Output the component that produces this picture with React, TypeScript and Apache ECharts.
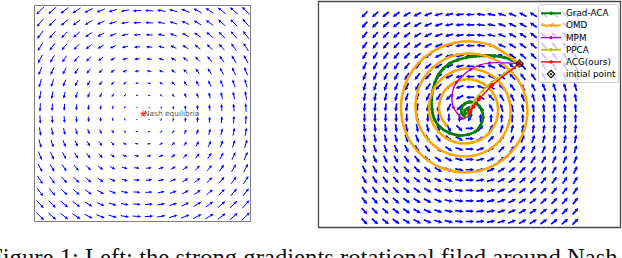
import React, { useEffect, useRef } from "react";
import * as echarts from "echarts";

// ---------- data ----------
const seriesNames = ["Grad-ACA", "OMD", "MPM", "PPCA", "ACG(ours)", "initial point"];
const seriesColors = ["#008000", "#ffa500", "#bf00bf", "#bfbf00", "#ff0000", "#000000"];
const captionText = "Figure 1: Left: the strong gradients rotational filed around Nash";
const nashLabel = "Nash equilibria";
const nashPoint = [0, 0];

// right panel, trajectories (data units)
const initialPoint = [5.2, 4.9];

const gradAcaPath = [
  [5.2, 4.9], [4.4, 5.25], [3.7, 5.5], [2.7, 5.67], [1.8, 5.7], [0.8, 5.65], [-0.1, 5.5],
  [-1.0, 5.25], [-1.8, 4.9], [-2.4, 4.4], [-2.9, 3.8], [-3.25, 3.0], [-3.5, 2.1], [-3.6, 1.3],
  [-3.55, 0.3], [-3.3, -0.7], [-2.7, -1.5], [-1.8, -2.05], [-0.8, -2.3], [0.1, -2.2],
  [0.8, -1.9], [1.3, -1.3], [1.55, -0.5], [1.4, 0.3], [0.9, 0.9], [0.2, 1.05], [-0.3, 0.85],
  [-0.6, 0.4], [-0.55, -0.1], [-0.2, -0.4], [0.2, -0.3], [0.3, 0.1], [0.05, 0.35],
  [-0.25, 0.2], [-0.2, -0.1], [0.05, -0.1], [0.1, 0.05],
];

// OMD spiral read in polar form around its centre
const omdCentre = [-0.1, 0.4];
const omdTheta = [
  40, 70, 100, 130, 160, 190, 220, 250, 280, 310, 340, 370, 400, 430, 460, 490, 520, 550,
  580, 610, 640, 670, 700, 730, 760, 790, 820, 850, 880, 910, 940, 970, 1000, 1030, 1060,
  1090, 1120, 1150, 1180, 1210, 1240, 1270, 1300,
];
const omdRadius = [
  6.9, 6.78, 6.68, 6.62, 6.58, 6.54, 6.5, 6.44, 6.36, 6.26, 6.16, 6.03, 5.8, 5.6, 5.45, 5.3,
  5.18, 5.06, 4.96, 4.86, 4.76, 4.64, 4.5, 4.36, 4.22, 4.08, 3.96, 3.86, 3.78, 3.72, 3.64,
  3.56, 3.46, 3.34, 3.22, 3.12, 3.04, 2.96, 2.9, 2.84, 2.78, 2.72, 2.66,
];

const mpmPath = [
  [5.2, 4.9], [2.2, 4.96], [0.3, 4.3], [-1.1, 3.0], [-1.55, 1.7], [-1.4, 0.5],
  [-0.55, -0.6], [-0.05, -0.4], [0.15, -0.1], [0.1, 0.1],
];

const ppcaPath = [
  [5.2, 4.9], [3.7, 3.9], [2.4, 3.0], [1.5, 2.15], [0.8, 1.3], [0.35, 0.5], [0.1, 0.0],
  [-0.1, -0.35],
];

const acgPath = [
  [5.2, 4.9], [2.47, 2.75], [1.13, 1.33], [0.6, 0.6], [0.3, 0.2], [0.2, 0.0],
];

// ---------- quiver fields ----------
// left: rotational field on an 18x18 mesh over [-1, 1]^2, magnitude growing with radius
const leftMeshCount = 18;
const leftQuiver: number[][] = [];
for (let j = 0; j < leftMeshCount; j++) {
  for (let i = 0; i < leftMeshCount; i++) {
    const x = -1 + (2 * i) / (leftMeshCount - 1);
    const y = -1 + (2 * j) / (leftMeshCount - 1);
    const r = Math.hypot(x, y);
    if (r < 1e-9) continue;
    const L = 0.106 * Math.pow(r / Math.SQRT2, 0.7);
    leftQuiver.push([x, y, (-y / r) * L, (x / r) * L]);
  }
}

// right: normalised rotational field on a 21x21 mesh
const rightCols = 21;
const rightRows = 21;
const rightX0 = -10.3, rightDX = 1.055;
const rightY0 = 9.8, rightDY = -1.035;
const rightCentre = [0.25, -0.55];
const rightQuiver: number[][] = [];
for (let j = 0; j < rightRows; j++) {
  for (let i = 0; i < rightCols; i++) {
    const x = rightX0 + i * rightDX;
    const y = rightY0 + j * rightDY;
    const dx = x - rightCentre[0], dy = y - rightCentre[1];
    const r = Math.hypot(dx, dy) || 1;
    const L = 0.85;
    rightQuiver.push([x, y, (-dy / r) * L, (dx / r) * L]);
  }
}

function makeArrow(shaftW: number, headL: number, headW: number, color: string) {
  return (params: any, api: any) => {
    const x = api.value(0), y = api.value(1), u = api.value(2), v = api.value(3);
    const p0 = api.coord([x - u / 2, y - v / 2]);
    const p1 = api.coord([x + u / 2, y + v / 2]);
    const dx = p1[0] - p0[0], dy = p1[1] - p0[1];
    const len = Math.hypot(dx, dy);
    if (len < 0.2) return { type: "group", children: [] };
    const ux = dx / len, uy = dy / len;
    const hl = Math.min(headL, len * 0.55);
    const hw = Math.min(headW, Math.max(1.2, len * 0.6));
    const bx = p1[0] - ux * hl, by = p1[1] - uy * hl;
    return {
      type: "group",
      children: [
        {
          type: "line",
          shape: { x1: p0[0], y1: p0[1], x2: bx + ux * 0.3, y2: by + uy * 0.3 },
          style: { stroke: color, lineWidth: shaftW },
        },
        {
          type: "polygon",
          shape: {
            points: [
              [p1[0], p1[1]],
              [bx - (uy * hw) / 2, by + (ux * hw) / 2],
              [bx + (uy * hw) / 2, by - (ux * hw) / 2],
            ],
          },
          style: { fill: color },
        },
      ],
    };
  };
}

// draws segment i -> i+1 of a path (Catmull-Rom in pixel space) and the marker at point i
function makePathRender(path: number[][], color: string, width: number, markerR: number, tension: number) {
  return (params: any, api: any) => {
    const i = params.dataIndex;
    const n = path.length;
    const c = (k: number) => api.coord(path[Math.max(0, Math.min(n - 1, k))]);
    const children: any[] = [];
    const p1 = c(i);
    if (i < n - 1) {
      const p0 = c(i - 1), p2 = c(i + 1), p3 = c(i + 2);
      const t = tension / 6;
      children.push({
        type: "bezierCurve",
        shape: {
          x1: p1[0], y1: p1[1], x2: p2[0], y2: p2[1],
          cpx1: p1[0] + (p2[0] - p0[0]) * t, cpy1: p1[1] + (p2[1] - p0[1]) * t,
          cpx2: p2[0] - (p3[0] - p1[0]) * t, cpy2: p2[1] - (p3[1] - p1[1]) * t,
        },
        style: { stroke: color, lineWidth: width, fill: "none", lineCap: "round" },
      });
    }
    if (markerR > 0) {
      children.push({ type: "circle", shape: { cx: p1[0], cy: p1[1], r: markerR }, style: { fill: color } });
    }
    return { type: "group", children };
  };
}

const starPath = "path://M50,0 L61,35 L98,35 L68,57 L79,91 L50,70 L21,91 L32,57 L2,35 L39,35 Z";
const ringDiamond =
  "path://M5,0 L10,5 L5,10 L0,5 Z M5,2 L2,5 L5,8 L8,5 Z M5,3.6 L6.4,5 L5,6.4 L3.6,5 Z";

function buildOption() {
  const omdPath = omdTheta.map((t, i) => [
    omdCentre[0] + omdRadius[i] * Math.cos((t * Math.PI) / 180),
    omdCentre[1] + omdRadius[i] * Math.sin((t * Math.PI) / 180),
  ]);
  const paths = [gradAcaPath, omdPath, mpmPath, ppcaPath, acgPath];
  const lineWidths = [2.8, 2.5, 1.4, 1.8, 1.4];
  const markerRadii = [1.7, 1.4, 1.5, 1.3, 2.1];
  const tensions = [1, 1, 0.8, 0.8, 0];

  const trajSeries = paths.map((p, k) => ({
    type: "custom",
    name: seriesNames[k],
    xAxisIndex: 1,
    yAxisIndex: 1,
    data: p,
    encode: { x: 0, y: 1 },
    renderItem: makePathRender(p, seriesColors[k], lineWidths[k], markerRadii[k], tensions[k]),
    clip: true,
    silent: true,
    z: 3,
  }));

  // legend (drawn manually, matplotlib style)
  const lgX = 538.5, lgY = 4.5, lgW = 80, lgH = 78;
  const rowY0 = 13.3, rowDY = 12.15;
  const Z = 100;
  const legendChildren: any[] = [
    {
      type: "rect",
      z: Z,
      shape: { x: lgX, y: lgY, width: lgW, height: lgH, r: 2 },
      style: { fill: "rgba(255,255,255,0.8)", stroke: "#cccccc", lineWidth: 1 },
    },
  ];
  seriesNames.forEach((name, k) => {
    const cy = rowY0 + k * rowDY;
    if (k < 5) {
      legendChildren.push({
        type: "line",
        z: Z + 1,
        shape: { x1: 541, y1: cy, x2: 561, y2: cy },
        style: { stroke: seriesColors[k], lineWidth: Math.min(lineWidths[k], 2) },
      });
      legendChildren.push({
        type: "circle",
        z: Z + 2,
        shape: { cx: 551, cy, r: 1.7 },
        style: { fill: seriesColors[k] },
      });
    } else {
      const d = (s: number) => [
        [551, cy - s],
        [551 + s, cy],
        [551, cy + s],
        [551 - s, cy],
      ];
      legendChildren.push({ type: "polygon", z: Z + 1, shape: { points: d(4.5) }, style: { fill: "#000" } });
      legendChildren.push({ type: "polygon", z: Z + 2, shape: { points: d(2.9) }, style: { fill: "#fff" } });
      legendChildren.push({ type: "polygon", z: Z + 3, shape: { points: d(1.4) }, style: { fill: "#000" } });
    }
    legendChildren.push({
      type: "text",
      z: Z + 1,
      x: 566,
      y: cy,
      style: {
        text: name,
        fontSize: 8.8,
        fontFamily: "DejaVu Sans",
        fill: "#000",
        verticalAlign: "middle",
        align: "left",
      },
    });
  });

  return {
    animation: false,
    backgroundColor: "#ffffff",
    grid: [
      {
        left: 34.5, top: 5.5, width: 216, height: 216,
        show: true, borderColor: "#808080", borderWidth: 1, backgroundColor: "#fff",
      },
      {
        left: 318.5, top: 1.5, width: 302, height: 226,
        show: true, borderColor: "#4a4a4a", borderWidth: 1.3, backgroundColor: "#fff",
      },
    ],
    xAxis: [
      { gridIndex: 0, type: "value", min: -1.055, max: 1.045, show: false },
      { gridIndex: 1, type: "value", min: -14.9, max: 15.3, show: false },
    ],
    yAxis: [
      { gridIndex: 0, type: "value", min: -1.05, max: 1.05, show: false },
      { gridIndex: 1, type: "value", min: -11.5, max: 11.1, show: false },
    ],
    series: [
      {
        type: "custom",
        xAxisIndex: 0,
        yAxisIndex: 0,
        data: leftQuiver,
        encode: { x: 0, y: 1 },
        renderItem: makeArrow(1.0, 3.3, 2.9, "#0000ff"),
        clip: true,
        silent: true,
        z: 2,
      },
      {
        type: "scatter",
        xAxisIndex: 0,
        yAxisIndex: 0,
        data: [nashPoint],
        symbol: starPath,
        symbolSize: 7,
        itemStyle: { color: "#ff0000" },
        label: {
          show: true,
          position: "right",
          distance: -2.5,
          formatter: nashLabel,
          fontSize: 7.4,
          fontFamily: "DejaVu Sans",
          color: "#222",
        },
        silent: true,
        z: 3,
      },
      {
        type: "custom",
        xAxisIndex: 1,
        yAxisIndex: 1,
        data: rightQuiver,
        encode: { x: 0, y: 1 },
        renderItem: makeArrow(1.7, 3.8, 3.8, "#0000ff"),
        clip: true,
        silent: true,
        z: 2,
      },
      ...trajSeries,
      {
        type: "scatter",
        name: seriesNames[5],
        xAxisIndex: 1,
        yAxisIndex: 1,
        data: [initialPoint],
        symbol: ringDiamond,
        symbolSize: 9,
        itemStyle: { color: "#000" },
        silent: true,
        z: 4,
      },
    ],
    graphic: [
      { type: "group", children: legendChildren },
      {
        type: "text",
        x: -11,
        y: 245,
        z: Z,
        style: {
          text: captionText,
          fontSize: 24.7,
          fontFamily: "Liberation Serif",
          fill: "#111",
          verticalAlign: "top",
          align: "left",
        },
      },
    ],
  };
}

export default function App() {
  const ref = useRef<HTMLDivElement>(null);
  useEffect(() => {
    if (!ref.current) return;
    const chart = echarts.init(ref.current, null, { renderer: "svg" });
    chart.setOption(buildOption() as any);
    return () => chart.dispose();
  }, []);
  return (
    <div
      ref={ref}
      style={{ position: "fixed", left: 0, top: 0, width: 622, height: 258, background: "#fff" }}
    />
  );
}
